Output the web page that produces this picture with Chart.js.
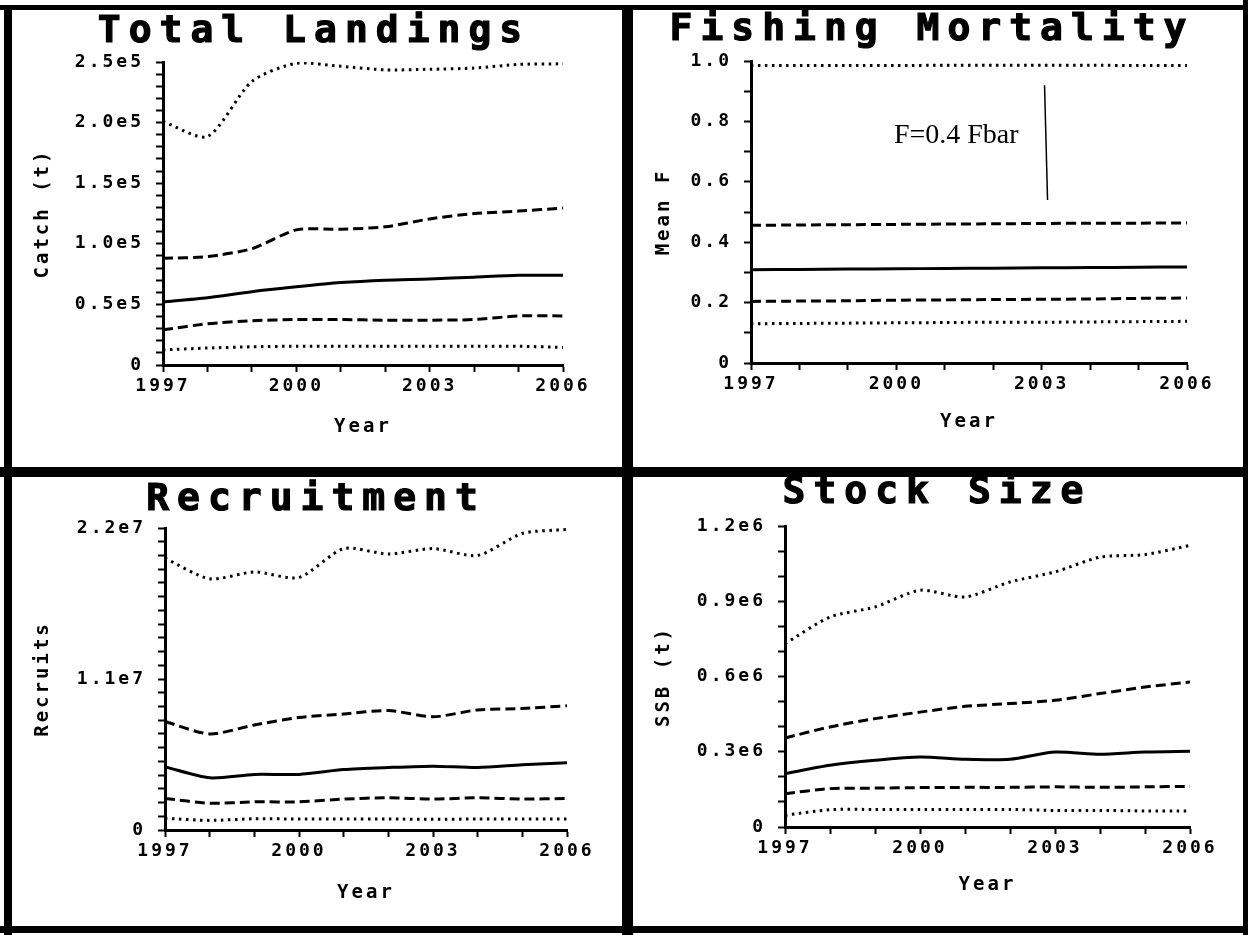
<!DOCTYPE html>
<html>
<head>
<meta charset="utf-8">
<script src="https://cdn.jsdelivr.net/npm/chart.js@4.4.1/dist/chart.umd.min.js"></script>
<style>
  body { margin: 0; background: #fff; }
  #page { position: relative; width: 1248px; height: 935px; background: #fff; overflow: hidden; }
  .bar { position: absolute; background: #000; }
  canvas { position: absolute; }
</style>
</head>
<body>
<div id="page">
  <div class="bar" style="left:0;top:5px;width:1248px;height:5px"></div>
  <div class="bar" style="left:0;top:926px;width:1248px;height:7px"></div>
  <div class="bar" style="left:4px;top:5px;width:8px;height:930px"></div>
  <div class="bar" style="left:1243px;top:0;width:5px;height:935px"></div>
  <div class="bar" style="left:622px;top:5px;width:11px;height:930px"></div>
  <div class="bar" style="left:0;top:467px;width:1248px;height:10px"></div>
  <canvas id="landings" width="610" height="457" style="left:12px;top:10px"></canvas>
  <canvas id="mortality" width="610" height="457" style="left:633px;top:10px"></canvas>
  <canvas id="recruitment" width="610" height="449" style="left:12px;top:477px"></canvas>
  <canvas id="stock" width="610" height="449" style="left:633px;top:477px"></canvas>
</div>
<script>
const years = ["1997", "1998", "1999", "2000", "2001", "2002", "2003", "2004", "2005", "2006"];
const labelledYears = ["1997", "2000", "2003", "2006"];

// total landings (t): upper dotted, upper dashed, median, lower dashed, lower dotted
const landHi = [201000, 188500, 234000, 249000, 246500, 243500, 244000, 245000, 248000, 248500];
const landQ3 = [88000, 89500, 96000, 111500, 112000, 114000, 120500, 125000, 127000, 129500];
const landMed = [52000, 55500, 60500, 64500, 68000, 70000, 71000, 72500, 74000, 74000];
const landQ1 = [29000, 34000, 36500, 37500, 37500, 37000, 37000, 37500, 40500, 40500];
const landLo = [12500, 14000, 15000, 15500, 15500, 15500, 15500, 15500, 15500, 14500];
const landTickVals = [0, 50000, 100000, 150000, 200000, 250000];
const landTickText = ["0", "0.5e5", "1.0e5", "1.5e5", "2.0e5", "2.5e5"];

// mean F
const fHi = [0.985, 0.985, 0.985, 0.985, 0.986, 0.986, 0.986, 0.986, 0.985, 0.985];
const fQ3 = [0.456, 0.457, 0.458, 0.459, 0.460, 0.461, 0.462, 0.463, 0.463, 0.464];
const fMed = [0.309, 0.310, 0.311, 0.312, 0.313, 0.314, 0.315, 0.316, 0.317, 0.318];
const fQ1 = [0.204, 0.205, 0.206, 0.208, 0.209, 0.210, 0.211, 0.212, 0.214, 0.215];
const fLo = [0.130, 0.131, 0.132, 0.133, 0.134, 0.135, 0.135, 0.136, 0.137, 0.138];
const fTickVals = [0, 0.2, 0.4, 0.6, 0.8, 1.0];
const fTickText = ["0", "0.2", "0.4", "0.6", "0.8", "1.0"];

// recruits
const recHi = [19.8e6, 18.3e6, 18.8e6, 18.4e6, 20.5e6, 20.1e6, 20.5e6, 20.0e6, 21.6e6, 21.9e6];
const recQ3 = [7.9e6, 7.0e6, 7.65e6, 8.2e6, 8.45e6, 8.7e6, 8.25e6, 8.75e6, 8.85e6, 9.05e6];
const recMed = [4.6e6, 3.8e6, 4.05e6, 4.05e6, 4.4e6, 4.55e6, 4.65e6, 4.55e6, 4.75e6, 4.9e6];
const recQ1 = [2.3e6, 1.95e6, 2.05e6, 2.05e6, 2.25e6, 2.35e6, 2.25e6, 2.35e6, 2.25e6, 2.3e6];
const recLo = [0.85e6, 0.7e6, 0.82e6, 0.8e6, 0.8e6, 0.8e6, 0.78e6, 0.8e6, 0.8e6, 0.8e6];
const recTickVals = [0, 11e6, 22e6];
const recTickText = ["0", "1.1e7", "2.2e7"];

// SSB (t)
const ssbHi = [731000, 837000, 877000, 944000, 917000, 977000, 1017000, 1076000, 1086000, 1123000];
const ssbQ3 = [355000, 399000, 432000, 458000, 481000, 492000, 505000, 532000, 558000, 578000];
const ssbMed = [213000, 246000, 266000, 279000, 270000, 270000, 299000, 290000, 299000, 302000];
const ssbQ1 = [133000, 153000, 155000, 157000, 158000, 158000, 160000, 158000, 160000, 162000];
const ssbLo = [47000, 69000, 70000, 70000, 70000, 70000, 66000, 66000, 64000, 64000];
const ssbTickVals = [0, 300000, 600000, 900000, 1200000];
const ssbTickText = ["0", "0.3e6", "0.6e6", "0.9e6", "1.2e6"];

const fNote = { text: "F=0.4 Fbar", x: 2.95, y: 0.728 };
const fNoteRule = { x: 6.08, top: 0.92, bottom: 0.54 };

const mono = "'DejaVu Sans Mono', monospace";
const dotted = { borderDash: [2.5, 4.5], borderWidth: 3 };
const dashed = { borderDash: [10, 5], borderWidth: 3 };
const solid = { borderDash: [], borderWidth: 3 };
const lineStyles = [dotted, dashed, solid, dashed, dotted];

// panel title drawn by hand so it can get the wide letter spacing
const panelText = {
  id: "panelText",
  beforeDraw(chart) {
    chart.ctx.letterSpacing = "3px";
  },
  afterDraw(chart, args, opts) {
    const ctx = chart.ctx;
    ctx.save();
    ctx.letterSpacing = "8px";
    ctx.font = "bold 38px " + mono;
    ctx.fillStyle = "#000";
    ctx.strokeStyle = "#000";
    ctx.lineWidth = 1.2;
    ctx.textAlign = "center";
    ctx.textBaseline = "alphabetic";
    ctx.fillText(opts.text, chart.width / 2 + opts.dx, opts.baseline);
    ctx.strokeText(opts.text, chart.width / 2 + opts.dx, opts.baseline);
    ctx.restore();
    ctx.letterSpacing = "0px";
  }
};

const noteText = {
  id: "noteText",
  afterDatasetsDraw(chart, args, opts) {
    if (!opts.show) return;
    const { ctx, scales: { x, y } } = chart;
    ctx.save();
    ctx.letterSpacing = "0px";
    ctx.font = "28px 'Liberation Serif', serif";
    ctx.fillStyle = "#000";
    ctx.textBaseline = "alphabetic";
    ctx.fillText(fNote.text, x.getPixelForValue(fNote.x), y.getPixelForValue(fNote.y));
    ctx.strokeStyle = "#000";
    ctx.lineWidth = 1.5;
    ctx.beginPath();
    ctx.moveTo(x.getPixelForValue(fNoteRule.x) - 1, y.getPixelForValue(fNoteRule.top));
    ctx.lineTo(x.getPixelForValue(fNoteRule.x) + 2, y.getPixelForValue(fNoteRule.bottom));
    ctx.stroke();
    ctx.restore();
  }
};

function makePanel(id, p) {
  return new Chart(id, {
    type: "line",
    data: {
      labels: years,
      datasets: p.series.map((s, i) => ({
        data: s,
        borderColor: "#000",
        pointRadius: 0,
        tension: 0.25,
        fill: false,
        ...lineStyles[i]
      }))
    },
    options: {
      responsive: false,
      animation: false,
      devicePixelRatio: 1,
      layout: { padding: { top: p.top, right: p.right, bottom: 0, left: 0 } },
      plugins: {
        legend: { display: false },
        tooltip: { enabled: false },
        panelText: { text: p.title, dx: p.titleDx, baseline: p.titleBase },
        noteText: { show: !!p.note }
      },
      scales: {
        x: {
          type: "category",
          offset: false,
          afterFit: scale => { scale.height = p.xHeight; },
          border: { display: true, color: "#000", width: 3 },
          grid: { drawOnChartArea: false, drawTicks: true, tickLength: 7, tickWidth: 2, tickColor: "#000" },
          ticks: {
            autoSkip: false,
            maxRotation: 0,
            padding: 4,
            color: "#000",
            font: { family: mono, size: 18, weight: "bold" },
            callback: (v, i) => (labelledYears.includes(years[i]) ? years[i] : "")
          },
          title: {
            display: true,
            text: "Year",
            color: "#000",
            font: { family: mono, size: 19, weight: "bold" },
            padding: { top: 0, bottom: p.yearPad }
          }
        },
        y: {
          min: 0,
          max: p.max,
          afterFit: scale => { scale.width = p.yWidth; },
          border: { display: true, color: "#000", width: 3 },
          grid: { drawOnChartArea: false, drawTicks: true, tickLength: 7, tickWidth: 2, tickColor: "#000" },
          ticks: {
            stepSize: p.step,
            autoSkip: false,
            padding: 12,
            color: "#000",
            font: { family: mono, size: 18, weight: "bold" },
            callback: v => {
              const i = p.tickVals.findIndex(t => Math.abs(t - v) < p.step / 10);
              return i >= 0 ? p.tickText[i] : "";
            }
          },
          title: {
            display: true,
            text: p.yTitle,
            color: "#000",
            font: { family: mono, size: 19, weight: "bold" },
            padding: { top: 20, bottom: 0 }
          }
        }
      }
    },
    plugins: [panelText, noteText]
  });
}

makePanel("landings", {
  title: "Total Landings", titleDx: -3, titleBase: 32,
  series: [landHi, landQ3, landMed, landQ1, landLo],
  max: 250000, step: 10000, tickVals: landTickVals, tickText: landTickText,
  yTitle: "Catch (t)", top: 52, right: 59, yWidth: 151, xHeight: 102, yearPad: 29
});

makePanel("mortality", {
  title: "Fishing Mortality", titleDx: -6, titleBase: 30,
  series: [fHi, fQ3, fMed, fQ1, fLo],
  max: 1.0, step: 0.1, tickVals: fTickVals, tickText: fTickText,
  yTitle: "Mean F", top: 51, right: 56, yWidth: 118, xHeight: 104, yearPad: 34, note: true
});

makePanel("recruitment", {
  title: "Recruitment", titleDx: -1, titleBase: 33,
  series: [recHi, recQ3, recMed, recQ1, recLo],
  max: 22e6, step: 1e6, tickVals: recTickVals, tickText: recTickText,
  yTitle: "Recruits", top: 51, right: 55, yWidth: 153, xHeight: 96, yearPad: 22
});

makePanel("stock", {
  title: "Stock Size", titleDx: -1, titleBase: 26,
  series: [ssbHi, ssbQ3, ssbMed, ssbQ1, ssbLo],
  max: 1200000, step: 100000, tickVals: ssbTickVals, tickText: ssbTickText,
  yTitle: "SSB (t)", top: 49, right: 53, yWidth: 152, xHeight: 99, yearPad: 30
});
</script>
</body>
</html>
